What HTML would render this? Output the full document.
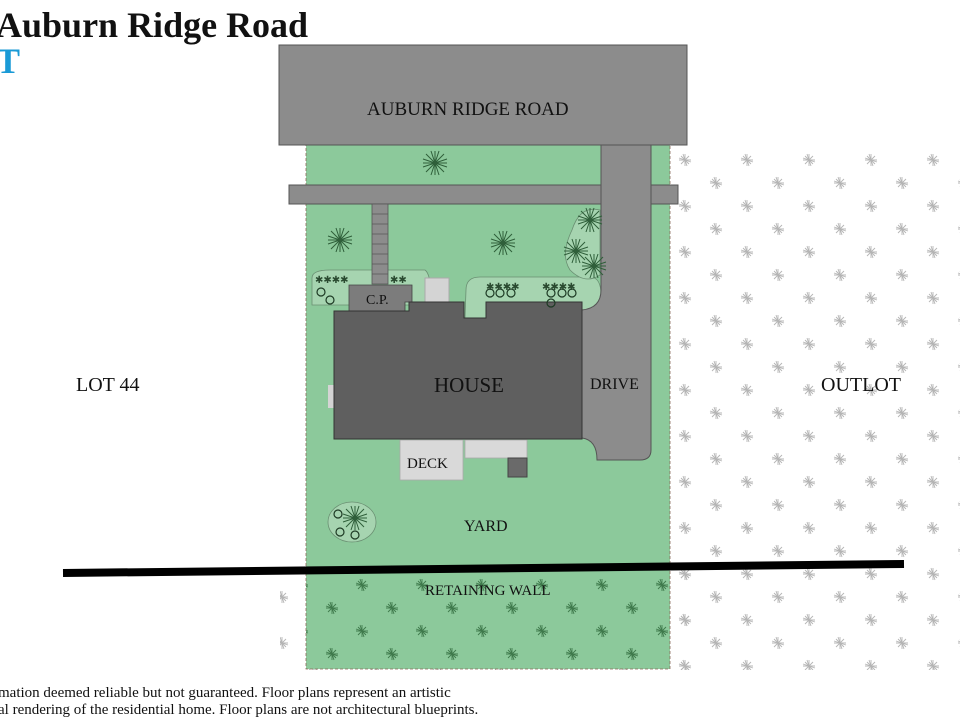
<!DOCTYPE html>
<html><head><meta charset="utf-8"><style>
html,body{margin:0;padding:0;background:#fff}
body{width:960px;height:720px;position:relative;overflow:hidden;font-family:"Liberation Serif",serif}
.a{position:absolute}
</style></head><body>
<svg class="a" style="left:0;top:0" width="960" height="720" viewBox="0 0 960 720">
<defs>
<g id="pl" stroke="#b5b5b5" stroke-width="0.9" fill="none">
<path d="M0,-6 L0,6 M-6,0 L6,0 M-4,-4 L4,4 M-4,4 L4,-4 M-2,-6 L2,6 M-6,-2 L6,2"/>
</g>
<g id="pg" stroke="#3f7a4c" stroke-width="0.9" fill="none">
<path d="M0,-6 L0,6 M-6,0 L6,0 M-4,-4 L4,4 M-4,4 L4,-4 M-2,-6 L2,6 M-6,-2 L6,2"/>
</g>
<g id="st" stroke="#2f5f3a" stroke-width="1" fill="none">
<path d="M0,-12 L0,12 M-12,0 L12,0 M-9,-9 L9,9 M-9,9 L9,-9 M-4,-12 L4,12 M-12,-4 L12,4 M-12,4 L12,-4 M4,-12 L-4,12"/>
</g>
<pattern id="wp" x="670" y="150" width="62" height="46" patternUnits="userSpaceOnUse">
<use href="#pl" x="15" y="10"/><use href="#pl" x="46" y="33"/>
</pattern>
<pattern id="gp" x="290" y="575" width="60" height="46" patternUnits="userSpaceOnUse">
<use href="#pg" x="12" y="10"/><use href="#pg" x="42" y="33"/>
</pattern>
</defs>
<rect x="670" y="150" width="290" height="520" fill="url(#wp)"/>
<rect x="280" y="572" width="410" height="98" fill="url(#wp)"/>
<rect x="306" y="145" width="364" height="524" fill="#8cc99b" stroke="#8a6a5a" stroke-width="0.8" stroke-dasharray="3,2"/>
<rect x="306" y="572" width="364" height="97" fill="url(#gp)"/>
<rect x="279" y="45" width="408" height="100" fill="#8c8c8c" stroke="#555" stroke-width="1"/>
<path d="M312,278 Q312,270 330,270 L425,270 Q432,275 430,305 L312,305 Z" fill="#a6d4b0" stroke="#6a8f72" stroke-width="0.8"/>
<path d="M466,290 Q466,277 480,277 L590,277 Q601,277 601,295 Q601,310 585,311 L486,311 L486,318 L465,318 Z" fill="#a6d4b0" stroke="#6a8f72" stroke-width="0.8"/>
<path d="M600,210 Q580,205 572,230 Q560,255 570,270 Q585,285 600,275 Z" fill="#a6d4b0" stroke="#6a8f72" stroke-width="0.8"/>
<ellipse cx="352" cy="522" rx="24" ry="20" fill="#a6d4b0" stroke="#6a8f72" stroke-width="0.8"/>
<rect x="289" y="185" width="389" height="19" fill="#8c8c8c" stroke="#555" stroke-width="1"/>
<path d="M601,145 L651,145 L651,450 Q651,460 640,460 L597,460 Q597,440 582,438 L582,310 Q601,308 601,290 Z" fill="#8c8c8c" stroke="#555" stroke-width="1"/>
<rect x="372" y="204" width="16" height="80" fill="#8c8c8c" stroke="#555" stroke-width="0.8"/>
<path d="M372,214H388M372,224H388M372,234H388M372,244H388M372,254H388M372,264H388M372,274H388" stroke="#555" stroke-width="0.8"/>
<rect x="425" y="278" width="24" height="26" fill="#d4d4d4" stroke="#aaa"/>
<rect x="328" y="385" width="7" height="23" fill="#d4d4d4"/>
<path d="M349,285 L412,285 L412,302 L405,302 L405,311 L349,311 Z" fill="#7c7c7c" stroke="#444" stroke-width="0.8"/>
<path d="M334,311 L409,311 L409,302 L464,302 L464,318 L486,318 L486,302 L582,302 L582,439 L334,439 Z" fill="#5f5f5f" stroke="#333" stroke-width="1"/>
<rect x="400" y="440" width="63" height="40" fill="#d9d9d9" stroke="#aaa" stroke-width="0.8"/>
<rect x="465" y="440" width="62" height="18" fill="#d9d9d9" stroke="#aaa" stroke-width="0.8"/>
<rect x="508" y="458" width="19" height="19" fill="#6a6a6a" stroke="#444"/>
<use href="#st" x="435" y="163"/><use href="#st" x="340" y="240"/><use href="#st" x="503" y="243"/>
<use href="#st" x="590" y="220"/><use href="#st" x="576" y="251"/><use href="#st" x="594" y="266"/>
<use href="#st" x="355" y="518"/>
<g fill="none" stroke="#1d3a24" stroke-width="1.2">
<circle cx="321" cy="292" r="4"/><circle cx="330" cy="300" r="4"/>
<circle cx="490" cy="293" r="4"/><circle cx="500" cy="293" r="4"/><circle cx="511" cy="293" r="4"/>
<circle cx="551" cy="293" r="4"/><circle cx="562" cy="293" r="4"/><circle cx="572" cy="293" r="4"/><circle cx="551" cy="303" r="4"/>
<circle cx="338" cy="514" r="4"/><circle cx="340" cy="532" r="4"/><circle cx="355" cy="535" r="4"/>
</g>
<g font-size="10" fill="#2a4a30">
<text x="315" y="283">✱✱✱✱</text><text x="390" y="283">✱✱</text><text x="486" y="290">✱✱✱✱</text><text x="542" y="290">✱✱✱✱</text>
</g>
<line x1="63" y1="573" x2="904" y2="564" stroke="#000" stroke-width="8"/>
</svg>
<div class="a" style="left:-4px;top:4px;font-size:36px;font-weight:bold;color:#111;white-space:nowrap">Auburn Ridge Road</div>
<div class="a" style="left:-4px;top:40px;font-size:36px;font-weight:bold;color:#1a9ad6">T</div>
<div class="a" style="left:367px;top:99px;font-size:19px;color:#111">AUBURN RIDGE ROAD</div>
<div class="a" style="left:366px;top:293px;font-size:14px;color:#111">C.P.</div>
<div class="a" style="left:434px;top:373px;font-size:21px;color:#111">HOUSE</div>
<div class="a" style="left:590px;top:376px;font-size:16px;color:#111">DRIVE</div>
<div class="a" style="left:76px;top:374px;font-size:20px;color:#111">LOT 44</div>
<div class="a" style="left:821px;top:374px;font-size:20px;color:#111">OUTLOT</div>
<div class="a" style="left:407px;top:456px;font-size:15px;color:#111">DECK</div>
<div class="a" style="left:464px;top:518px;font-size:16px;color:#111">YARD</div>
<div class="a" style="left:425px;top:583px;font-size:15px;color:#111">RETAINING WALL</div>
<div class="a" style="left:-2px;top:685px;font-size:15px;color:#111;line-height:17px;white-space:nowrap">mation deemed reliable but not guaranteed. Floor plans represent an artistic<br>al rendering of the residential home. Floor plans are not architectural blueprints.</div>
</body></html>
